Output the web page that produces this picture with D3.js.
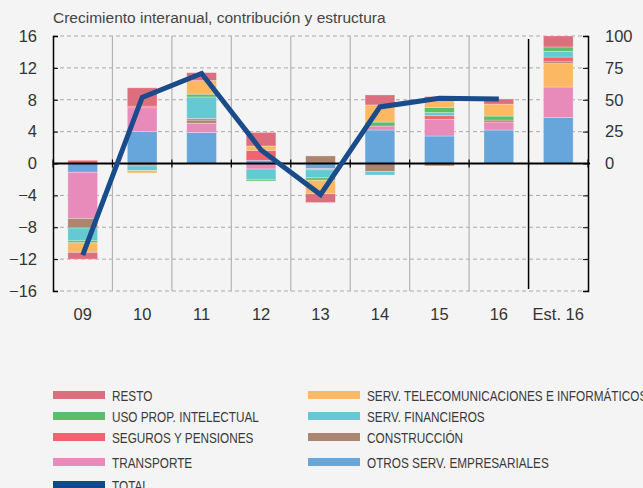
<!DOCTYPE html>
<html>
<head>
<meta charset="utf-8">
<script src="https://cdn.jsdelivr.net/npm/d3@7"></script>
<style>
  html, body { margin: 0; padding: 0; background: #f4f4f4; }
  svg { display: block; }
  svg text { font-family: "Liberation Sans", Arial, Helvetica, sans-serif; }
</style>
</head>
<body>
<svg id="chart" width="643" height="488"></svg>
<script>
const categories = ['09', '10', '11', '12', '13', '14', '15', '16', 'Est. 16'];
const years = categories.slice(0, 8);

// contribuciones al crecimiento interanual (pp), eje izquierdo
const otros   = [-1.1, 4.0, 3.9, 0.4, -0.65, 4.2, 3.45, 4.2];
const transp  = [-5.8, 3.0, 1.15, -0.7, -0.15, 0.5, 2.1, 1.0];
const constr  = [-1.2, -0.3, 0.4, 0, 0.95, -1.0, -0.3, 0.25];
const seguros = [0.4, 0.2, 0.2, 1.25, 0, 0, 0.45, 0];
const financ  = [-1.6, -0.6, 2.7, -1.35, -1.0, -0.45, 0.4, 0];
const usoProp = [-0.25, 0, 0.35, -0.15, -0.3, 0.5, 0.65, 0.5];
const telecom = [-1.2, -0.3, 1.7, 0.55, -1.7, 2.15, 1.05, 1.5];
const resto   = [-0.85, 2.3, 1.0, 1.7, -1.1, 1.25, 0.3, 0.65];
const total   = [-11.5, 8.3, 11.3, 1.7, -3.9, 7.1, 8.2, 8.1];

// estructura estimada 2016 (%), eje derecho
const estKeys   = ['otros', 'transp', 'telecom', 'constr', 'seguros', 'financ', 'usoProp', 'resto'];
const estValues = [36, 24, 18.4, 1.4, 3.7, 4.5, 3.4, 8.6];

const leftTicks  = [-16, -12, -8, -4, 0, 4, 8, 12, 16];
const rightTicks = [0, 25, 50, 75, 100];

const series = [
  { key: 'otros',   label: 'OTROS SERV. EMPRESARIALES', color: '#66a6db', values: otros },
  { key: 'transp',  label: 'TRANSPORTE', color: '#e98bba', values: transp },
  { key: 'constr',  label: 'CONSTRUCCIÓN', color: '#aa8671', values: constr },
  { key: 'seguros', label: 'SEGUROS Y PENSIONES', color: '#f1646f', values: seguros },
  { key: 'financ',  label: 'SERV. FINANCIEROS', color: '#64c9d3', values: financ },
  { key: 'usoProp', label: 'USO PROP. INTELECTUAL', color: '#5cbd6a', values: usoProp },
  { key: 'telecom', label: 'SERV. TELECOMUNICACIONES E INFORMÁTICOS', color: '#fdb864', values: telecom },
  { key: 'resto',   label: 'RESTO', color: '#dc6e7e', values: resto },
];
const colorOf = Object.fromEntries(series.map(s => [s.key, s.color]));
const lineColor = '#1a4b8b';

const svg = d3.select('#chart');
const plotL = 53, plotR = 588, plotT = 36, plotB = 291;

const x = d3.scaleBand().domain(categories).range([plotL, plotR]).paddingInner(0.5).paddingOuter(0.25);
const y = d3.scaleLinear().domain([-16, 16]).range([plotB, plotT]);
const y2 = d3.scaleLinear().domain([-100, 100]).range([plotB, plotT]);

// title
svg.append('text').attr('x', 53).attr('y', 23)
  .attr('font-size', 15.5).attr('fill', '#444')
  .text('Crecimiento interanual, contribución y estructura');

// horizontal dashed grid
svg.append('g').selectAll('line').data(leftTicks).join('line')
  .attr('x1', plotL).attr('x2', plotR)
  .attr('y1', d => y(d)).attr('y2', d => y(d))
  .attr('stroke', '#a8a8a8').attr('stroke-width', 1).attr('stroke-dasharray', '4,3');

// vertical separators
const bounds = d3.range(1, categories.length).map(i => plotL + (plotR - plotL) * i / categories.length);
const lastB = bounds.length - 1;
svg.append('g').selectAll('line').data(bounds).join('line')
  .attr('x1', d => d).attr('x2', d => d)
  .attr('y1', (d, i) => i === lastB ? plotT + 3 : plotT)
  .attr('y2', (d, i) => i === lastB ? plotB - 2 : plotB)
  .attr('stroke', (d, i) => i === lastB ? '#000' : '#b4b4b4')
  .attr('stroke-width', (d, i) => i === lastB ? 1.5 : 1.2);

// stacked bars, years
const rows = years.map((c, i) => {
  const r = { cat: c };
  series.forEach(s => { r[s.key] = s.values[i]; });
  return r;
});
const stack = d3.stack().keys(series.map(s => s.key)).offset(d3.stackOffsetDiverging);
const layers = stack(rows);

const barG = svg.append('g');
barG.selectAll('g').data(layers).join('g')
  .attr('fill', d => colorOf[d.key])
  .selectAll('rect').data(d => d.filter(p => p[1] - p[0] !== 0)).join('rect')
  .attr('x', d => x(d.data.cat))
  .attr('width', x.bandwidth())
  .attr('y', d => y(Math.max(d[0], d[1])))
  .attr('height', d => Math.abs(y(d[0]) - y(d[1])))
  .attr('stroke', 'rgba(255,255,255,0.35)').attr('stroke-width', 0.8);

// Est. 16 structure, right axis
const estRow = { cat: 'Est. 16' };
estKeys.forEach((k, i) => { estRow[k] = estValues[i]; });
const estLayers = d3.stack().keys(estKeys)([estRow]);
barG.append('g').selectAll('rect').data(estLayers).join('rect')
  .attr('fill', d => colorOf[d.key])
  .attr('x', x('Est. 16'))
  .attr('width', x.bandwidth())
  .attr('y', d => y2(d[0][1]))
  .attr('height', d => y2(d[0][0]) - y2(d[0][1]))
  .attr('stroke', 'rgba(255,255,255,0.35)').attr('stroke-width', 0.8);

// zero line with small ticks
svg.append('line').attr('x1', plotL).attr('x2', plotR + 2)
  .attr('y1', y(0)).attr('y2', y(0)).attr('stroke', '#000').attr('stroke-width', 2);
svg.append('g').selectAll('line').data([plotL, ...bounds, plotR]).join('line')
  .attr('x1', d => d).attr('x2', d => d)
  .attr('y1', y(0) - 4).attr('y2', y(0) + 4)
  .attr('stroke', '#000').attr('stroke-width', 1.2);

// left axis
const yAxis = svg.append('g').attr('transform', `translate(${plotL},0)`)
  .call(d3.axisLeft(y).tickValues(leftTicks).tickSize(-5).tickPadding(16).tickFormat(d3.format('d')));
yAxis.select('.domain').attr('stroke-width', 1.5);
yAxis.selectAll('text').attr('font-size', 16.5).attr('fill', '#333')
  .style('font-family', '"Liberation Sans", Arial, sans-serif');

// right axis
const y2Ticks = leftTicks.map(v => v * 100 / 16);
const yAxis2 = svg.append('g').attr('transform', `translate(${plotR},0)`)
  .call(d3.axisRight(y2).tickValues(y2Ticks).tickSize(-5).tickPadding(17)
    .tickFormat(d => rightTicks.includes(d) ? d3.format('d')(d) : ''));
yAxis2.select('.domain').attr('stroke-width', 1.5);
yAxis2.selectAll('text').attr('font-size', 16.5).attr('fill', '#333')
  .style('font-family', '"Liberation Sans", Arial, sans-serif');

// x labels
svg.append('g').selectAll('text').data(categories).join('text')
  .attr('x', d => x(d) + x.bandwidth() / 2)
  .attr('y', 320)
  .attr('text-anchor', 'middle')
  .attr('font-size', 16.5).attr('fill', '#333')
  .text(d => d);

// total line
const line = d3.line()
  .x((d, i) => x(years[i]) + x.bandwidth() / 2)
  .y(d => y(d));
svg.append('path').datum(total)
  .attr('d', line)
  .attr('fill', 'none')
  .attr('stroke', lineColor)
  .attr('stroke-width', 5)
  .attr('stroke-linejoin', 'miter');

// legend
const legendItems = [
  { label: 'RESTO', color: colorOf.resto, col: 0, y: 395 },
  { label: 'USO PROP. INTELECTUAL', color: colorOf.usoProp, col: 0, y: 416 },
  { label: 'SEGUROS Y PENSIONES', color: colorOf.seguros, col: 0, y: 437 },
  { label: 'TRANSPORTE', color: colorOf.transp, col: 0, y: 462 },
  { label: 'TOTAL', color: '#0f4a86', col: 0, y: 485 },
  { label: 'SERV. TELECOMUNICACIONES E INFORMÁTICOS', color: colorOf.telecom, col: 1, y: 395 },
  { label: 'SERV. FINANCIEROS', color: colorOf.financ, col: 1, y: 416 },
  { label: 'CONSTRUCCIÓN', color: colorOf.constr, col: 1, y: 437 },
  { label: 'OTROS SERV. EMPRESARIALES', color: colorOf.otros, col: 1, y: 462 },
];
const colX = [53, 308];
const lg = svg.append('g').attr('class', 'legend').selectAll('g').data(legendItems).join('g')
  .attr('transform', d => `translate(${colX[d.col]},${d.y})`);
lg.append('rect').attr('x', 0).attr('y', -4).attr('width', 52).attr('height', 8)
  .attr('fill', d => d.color);
lg.append('text')
  .attr('transform', 'translate(59,5.5) scale(0.76,1)')
  .attr('font-size', 15.5).attr('fill', '#3a3a3a')
  .text(d => d.label);
</script>
</body>
</html>
